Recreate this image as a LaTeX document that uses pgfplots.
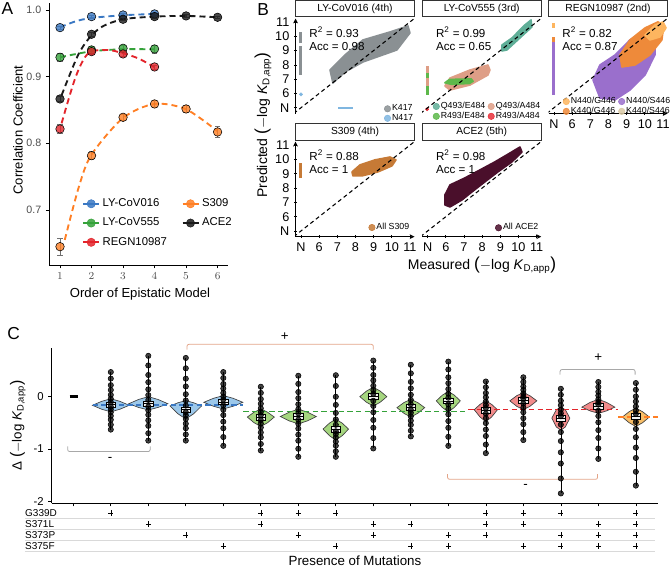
\documentclass[border=0pt]{standalone}
\usepackage{fontspec}
\setmainfont{Liberation Sans}
\usepackage{pgfplots}
\pgfplotsset{compat=1.18}
\usepgfplotslibrary{statistics}

% panel A
\definecolor{cBlue}{HTML}{3A78C3}
\definecolor{cGreen}{HTML}{35A23A}
\definecolor{cRed}{HTML}{E3242B}
\definecolor{cOrange}{HTML}{FF7F24}
\definecolor{cBlack}{HTML}{1A1A1A}
\definecolor{tickgrey}{HTML}{4D4D4D}
\definecolor{errgrey}{HTML}{707070}
% panel B
\definecolor{kGrey}{HTML}{8A9093}
\definecolor{nBlue}{HTML}{7FB6E0}
\definecolor{qTeal}{HTML}{5FAE97}
\definecolor{qSalmon}{HTML}{DE9E86}
\definecolor{rGreen}{HTML}{5DB84A}
\definecolor{rRed}{HTML}{E8303A}
\definecolor{nLOrange}{HTML}{FDB55F}
\definecolor{kOrange}{HTML}{EE8A3A}
\definecolor{nPurple}{HTML}{9A6FCC}
\definecolor{kBeige}{HTML}{D8C8A4}
\definecolor{sBrown}{HTML}{C67A36}
\definecolor{aMaroon}{HTML}{4A0F2B}
% panel C
\definecolor{vBlue}{HTML}{9CC8EA}
\definecolor{vGreen}{HTML}{A5D67F}
\definecolor{vRed}{HTML}{F28B8B}
\definecolor{vOrange}{HTML}{F8BE68}
\definecolor{brSalmon}{HTML}{E3A488}
\definecolor{brGrey}{HTML}{A8A8A8}

\newcommand{\fs}[1]{\fontsize{#1}{#1}\selectfont}
\newcommand{\KD}{\textit{K}\textsubscript{D,app}}
\newcommand{\linekey}[2]{\addlegendimage{legend image code/.code={\draw[#1, line width=1.3pt] (0pt,0pt) -- (12pt,0pt); \fill[#1, fill opacity=0.85] (6pt,0pt) circle (3.1pt);}}\addlegendentry{#2}}
\newcommand{\dotkey}[2]{\addlegendimage{legend image code/.code={\fill[#1, fill opacity=0.85] (2.4pt,0pt) circle (2.4pt);}}\addlegendentry{#2}}

\tikzset{
  strip/.style={draw=black!80, line width=0.6pt, fill=white, minimum width=89.25pt,
    minimum height=12.4pt, inner sep=0pt, anchor=south, font=\fs{7.7}, yshift=1pt},
  rsq/.style={anchor=west, inner sep=0pt, font=\fs{8.7}},
}
\pgfplotsset{
  dots/.style={forget plot, only marks, mark=*, mark size=3.2pt,
    mark options={draw=none, fill=#1, fill opacity=0.8},
    error bars/y dir=both, error bars/y explicit,
    error bars/error bar style={color=errgrey, line width=0.55pt},
    error bars/error mark options={rotate=90, mark size=2pt, color=errgrey, line width=0.55pt}},
  fit/.style={#1, line width=1.4pt, dash pattern=on 4.5pt off 3pt, smooth, forget plot},
  facet/.style={scale only axis, width=89.25pt, height=71.25pt,
    xmin=4.7, xmax=11.25, ymin=4.6, ymax=11.24,
    xtick={5,...,11}, ytick={5,...,11},
    xticklabels={N,6,7,8,9,10,11}, yticklabels={N,6,7,8,9,10,11},
    tick align=outside, major tick length=2.2pt,
    tick style={black, line width=0.5pt},
    ticklabel style={font=\fs{9.5}},
    axis line style={-, line width=0.6pt},
    clip mode=individual,
    legend cell align=left,
    legend style={draw=none, fill=none, font=\fs{6.6}, inner sep=0pt,
      row sep=-0.5pt, nodes={inner sep=0.8pt}, anchor=north west}},
  diag/.style={forget plot, black, line width=0.8pt, dash pattern=on 3pt off 2.3pt},
  cloud/.style={forget plot, fill=#1, draw=#1, line width=1.2pt, line join=round},
  nband/.style={forget plot, #1, line width=2.2pt},
  violin/.style={forget plot, fill=#1, draw=black!75, line width=0.5pt},
  pts/.style={forget plot, only marks, mark=*, mark size=2pt,
    mark options={draw=none, fill=black, fill opacity=0.75}},
  bx/.style={forget plot, boxplot/draw direction=y, draw=black, fill=gray!10, line width=0.5pt},
  grp/.style={forget plot, #1, line width=1.1pt, dash pattern=on 4pt off 2.5pt},
  bracket/.style={forget plot, #1, line width=0.6pt, rounded corners=1.5pt},
  sep/.style={forget plot, black!15, line width=0.5pt},
}

\begin{document}
\begin{tikzpicture}
\path[use as bounding box] (0pt,0pt) rectangle (502.5pt,-425.25pt);

% ---------------- panel labels and shared titles
\node[anchor=north west, inner sep=0pt, font=\fs{13}] at (1.1pt,-1.5pt) {A};
\node[anchor=north west, inner sep=0pt, font=\fs{13}] at (192.75pt,-2.25pt) {B};
\node[anchor=north west, inner sep=0pt, font=\fs{13}] at (5.25pt,-245.25pt) {C};
\node[rotate=90, font=\fs{10.5}] at (197.25pt,-93.75pt) {Predicted {\fs{13}(}$-$log \KD{\fs{13})}};
\node[font=\fs{10.5}] at (361.5pt,-198.75pt) {Measured {\fs{13}(}$-$log \KD{\fs{13})}};

% ---------------- A
\begin{axis}[
  at={(36.975pt,-198.75pt)}, anchor=south west,
  scale only axis, width=134.25pt, height=196.3pt,
  xmin=0.66, xmax=6.34, ymin=0.6175, ymax=1.01,
  axis x line=bottom, axis y line=left,
  axis line style={-, line width=0.6pt},
  xtick={1,...,6}, ytick={0.7,0.8,0.9,1.0},
  yticklabels={0.7,0.8,0.9,1.0},
  tick align=outside, major tick length=2.5pt,
  tick style={black, line width=0.5pt},
  ticklabel style={font=\fs{8}, text=tickgrey},
  xlabel={Order of Epistatic Model}, ylabel={Correlation Coefficient},
  label style={font=\fs{9.8}},
  xlabel style={at={(axis description cs:0.507,-0.111)}, anchor=center},
  ylabel style={at={(axis description cs:-0.175,0.516)}, anchor=center},
  legend columns=2, legend cell align=left,
  legend style={draw=none, fill=none, font=\fs{8.5}, inner sep=0pt,
    at={(0.183,0.264)}, anchor=north west, row sep=3pt,
    /tikz/every even column/.append style={column sep=9pt}},
]
\addplot[fit=cBlue] coordinates {(1,0.974)(1.5,0.983)(2,0.988)(3,0.992)(4,0.994)};
\addplot[fit=cBlack] coordinates {(1.05,0.872)(1.55,0.93)(1.92,0.9575)(2.34,0.975)(3,0.986)(4,0.99)(5,0.991)(6,0.989)};
\addplot[fit=cGreen] coordinates {(1,0.929)(2,0.938)(3,0.941)(4,0.941)};
\addplot[fit=cRed] coordinates {(1.05,0.83)(1.5,0.9)(1.9,0.935)(2.5,0.94)(3,0.935)(3.5,0.927)(4,0.914)};
\addplot[fit=cOrange] coordinates {(1.15,0.655)(1.6,0.735)(2,0.783)(3,0.838)(4,0.859)(5,0.851)(6,0.818)};

\addplot[dots=cBlue] coordinates {(1,0.9735)+-(0,0.002)(2,0.990)+-(0,0.002)(3,0.9925)+-(0,0.002)(4,0.994)+-(0,0.002)};
\addplot[dots=cBlack] coordinates {(1,0.8665)+-(0,0.004)(2,0.9635)+-(0,0.003)(3,0.986)+-(0,0.002)(4,0.990)+-(0,0.002)(5,0.991)+-(0,0.002)(6,0.989)+-(0,0.002)};
\addplot[dots=cGreen] coordinates {(1,0.929)+-(0,0.006)(2,0.940)+-(0,0.006)(3,0.9425)+-(0,0.005)(4,0.9415)+-(0,0.006)};
\addplot[dots=cRed] coordinates {(1,0.8215)+-(0,0.007)(2,0.9375)+-(0,0.004)(3,0.934)+-(0,0.003)(4,0.9145)+-(0,0.003)};
\addplot[dots=cOrange] coordinates {(1,0.645)+-(0,0.0125)(2,0.7815)+-(0,0.006)(3,0.839)+-(0,0.005)(4,0.859)+-(0,0.005)(5,0.8515)+-(0,0.005)(6,0.817)+-(0,0.008)};

\linekey{cBlue}{LY-CoV016}
\linekey{cOrange}{S309}
\linekey{cGreen}{LY-CoV555}
\linekey{cBlack}{ACE2}
\linekey{cRed}{REGN10987}
\end{axis}

% ---------------- B: LY-CoV016
\begin{axis}[facet, at={(221.625pt,-85.125pt)}, anchor=south west,
  axis x line=none, axis y line=left, xtick=\empty,
  legend style={at={(0.742,0.106)}}]
\addplot[cloud=kGrey] coordinates {(6.60,7.64)(7.42,8.69)(8.41,9.74)(9.90,10.30)(10.89,10.72)(11.0,10.23)(10.28,9.04)(8.41,8.20)(7.42,7.50)(6.76,6.73)} -- cycle;
\addplot[nband=kGrey] coordinates {(5,7.3)(5,9.3)};
\addplot[nband=kGrey] coordinates {(5,9.5)(5,10.3)};
\addplot[forget plot, only marks, mark=*, mark size=1.2pt, nBlue] coordinates {(5,5.94)};
\addplot[forget plot, nBlue, line width=1.8pt] coordinates {(7.04,4.99)(7.86,4.99)};
\addplot[diag] coordinates {(4.6,4.6)(11.3,11.3)};
\node[rsq] at (axis cs:5.45,10.3) {R\textsuperscript{2} = 0.93};
\node[rsq] at (axis cs:5.45,9.3) {Acc = 0.98};
\node[strip] at (rel axis cs:0.5,1) {LY-CoV016 (4th)};
\dotkey{kGrey}{K417}
\dotkey{nBlue}{N417}
\end{axis}

% ---------------- B: LY-CoV555
\begin{axis}[facet, at={(316.65pt,-85.125pt)}, anchor=south west,
  axis x line=none, axis y line=none, xtick=\empty, ytick=\empty,
  legend columns=2, legend style={at={(0.087,0.132)},
    /tikz/every even column/.append style={column sep=1pt}}]
\addplot[cloud=qTeal] coordinates {(9.09,9.39)(9.64,9.88)(10.35,10.79)(10.69,11.14)(10.74,10.65)(10.08,9.88)(9.36,9.04)(9.09,8.97)} -- cycle;
\addplot[cloud=qSalmon] coordinates {(5.95,6.52)(6.23,7.08)(7.33,7.64)(8.32,7.99)(8.43,7.64)(8.32,7.29)(7.33,6.59)(6.23,6.24)} -- cycle;
\addplot[cloud=rGreen] coordinates {(5.95,6.75)(6.2,6.98)(7.4,7.02)(7.5,6.85)(7.3,6.7)(6.3,6.64)} -- cycle;
\addplot[nband=qSalmon] coordinates {(5,5.9)(5,7.9)};
\addplot[nband=rGreen] coordinates {(5,5.9)(5,6.5)};
\addplot[nband=rGreen] coordinates {(5,7.1)(5,7.4)};
\addplot[forget plot, only marks, mark=*, mark size=1.2pt, rRed] coordinates {(4.97,4.9)};
\addplot[diag] coordinates {(4.6,4.6)(11.3,11.3)};
\node[rsq] at (axis cs:5.45,10.3) {R\textsuperscript{2} = 0.99};
\node[rsq] at (axis cs:5.45,9.3) {Acc = 0.65};
\node[strip] at (rel axis cs:0.5,1) {LY-CoV555 (3rd)};
\dotkey{qTeal}{Q493/E484}
\dotkey{qSalmon}{Q493/A484}
\dotkey{rGreen}{R493/E484}
\dotkey{rRed}{R493/A484}
\end{axis}

% ---------------- B: REGN10987
\begin{axis}[facet, at={(411.375pt,-85.125pt)}, anchor=south west,
  axis x line=bottom, axis y line=none, ytick=\empty,
  legend columns=2, legend style={at={(0.118,0.184)},
    /tikz/every even column/.append style={column sep=1pt}}]
\addplot[cloud=nPurple] coordinates {(7.53,5.69)(7.15,6.94)(7.53,7.99)(8.36,8.69)(9.18,9.74)(10.01,10.44)(10.56,10.09)(10.56,8.69)(10.01,7.29)(9.18,6.24)(8.36,5.55)} -- cycle;
\addplot[cloud=kOrange] coordinates {(8.63,8.69)(9.18,9.74)(10.01,10.58)(10.72,11.0)(11.05,10.79)(10.94,9.74)(10.28,8.69)(9.46,7.99)(8.74,7.85)} -- cycle;
\addplot[cloud=nLOrange] coordinates {(10.01,10.09)(10.56,10.79)(11.0,11.0)(11.17,10.58)(10.83,9.95)(10.28,9.74)} -- cycle;
\addplot[nband=nPurple] coordinates {(5,5.9)(5,9.6)};
\addplot[nband=kOrange] coordinates {(5,9.6)(5,9.95)};
\addplot[nband=nLOrange] coordinates {(5,10.6)(5,10.9)};
\addplot[diag] coordinates {(4.6,4.6)(11.3,11.3)};
\node[rsq] at (axis cs:5.45,10.3) {R\textsuperscript{2} = 0.82};
\node[rsq] at (axis cs:5.45,9.3) {Acc = 0.87};
\node[strip] at (rel axis cs:0.5,1) {REGN10987 (2nd)};
\dotkey{nLOrange}{N440/G446}
\dotkey{nPurple}{N440/S446}
\dotkey{kOrange}{K440/G446}
\dotkey{kBeige}{K440/S446}
\end{axis}

% ---------------- B: S309
\begin{axis}[facet, at={(221.625pt,-177.525pt)}, anchor=south west,
  axis x line=bottom, axis y line=left,
  legend style={at={(0.611,0.155)}}]
\addplot[cloud=sBrown] coordinates {(7.81,9.13)(8.25,9.62)(9.07,9.97)(9.9,10.17)(10.23,9.97)(10.01,9.55)(9.24,9.13)(8.36,8.85)(7.86,8.85)} -- cycle;
\addplot[nband=sBrown] coordinates {(5,8.7)(5,9.75)};
\addplot[diag] coordinates {(4.6,4.6)(11.3,11.3)};
\node[rsq] at (axis cs:5.45,10.3) {R\textsuperscript{2} = 0.88};
\node[rsq] at (axis cs:5.45,9.3) {Acc = 1};
\node[strip] at (rel axis cs:0.5,1) {S309 (4th)};
\dotkey{sBrown}{All S309}
\end{axis}

% ---------------- B: ACE2
\begin{axis}[facet, at={(316.65pt,-177.525pt)}, anchor=south west,
  axis x line=bottom, axis y line=none, ytick=\empty,
  legend style={at={(0.61,0.152)}}]
\addplot[cloud=aMaroon] coordinates {(5.95,7.52)(6.23,8.22)(7.05,8.71)(7.88,9.27)(8.7,9.83)(9.53,10.45)(10.08,10.87)(10.19,10.52)(9.64,9.83)(8.87,9.13)(8.15,8.43)(7.44,7.73)(6.89,7.17)(6.23,6.68)(5.95,6.82)} -- cycle;
\addplot[diag] coordinates {(4.6,4.6)(11.3,11.3)};
\node[rsq] at (axis cs:5.45,10.3) {R\textsuperscript{2} = 0.98};
\node[rsq] at (axis cs:5.45,9.3) {Acc = 1};
\node[strip] at (rel axis cs:0.5,1) {ACE2 (5th)};
\dotkey{aMaroon}{All ACE2}
\end{axis}

% ---------------- C
\begin{axis}[
  at={(38.775pt,-377.25pt)}, anchor=south west,
  scale only axis, width=454.7pt, height=116.25pt,
  xmin=-0.576, xmax=15.59, ymin=-2.033, ymax=0.93,
  axis x line=bottom, axis y line=left,
  axis line style={-, line width=0.7pt},
  xtick={0,...,15}, xticklabels={},
  ytick={-2,-1,0}, yticklabels={-2,-1,0},
  tick align=outside, major tick length=2.5pt,
  tick style={black, line width=0.5pt},
  ticklabel style={font=\fs{8.5}},
  ylabel={Δ {\fs{12}(}$-$log \KD{\fs{12})}},
  ylabel style={font=\fs{10}, at={(axis description cs:-0.056,0.5)}, anchor=center},
  clip=false,
]
% individual measurements (behind the violins)
\addplot[pts] coordinates {
 (1,0.47)(1,0.345)(1,0.22)(1,0.127)(1,0.033)(1,-0.042)(1,-0.104)(1,-0.192)(1,-0.24)(1,-0.297)(1,-0.368)(1,-0.44)(1,-0.535)(1,-0.63)
 (2,0.78)(2,0.597)(2,0.414)(2,0.277)(2,0.14)(2,0.03)(2,-0.062)(2,-0.191)(2,-0.262)(2,-0.347)(2,-0.452)(2,-0.558)(2,-0.699)(2,-0.84)
 (3,0.74)(3,0.542)(3,0.344)(3,0.196)(3,0.047)(3,-0.072)(3,-0.171)(3,-0.297)(3,-0.356)(3,-0.427)(3,-0.516)(3,-0.604)(3,-0.722)(3,-0.84)
 (4,0.47)(4,0.356)(4,0.242)(4,0.157)(4,0.071)(4,0.003)(4,-0.054)(4,-0.167)(4,-0.251)(4,-0.352)(4,-0.478)(4,-0.604)(4,-0.772)(4,-0.94)
 (5,0.19)(5,0.072)(5,-0.046)(5,-0.135)(5,-0.223)(5,-0.294)(5,-0.353)(5,-0.45)(5,-0.513)(5,-0.589)(5,-0.684)(5,-0.778)(5,-0.904)(5,-1.03)
 (6,0.40)(6,0.244)(6,0.088)(6,-0.029)(6,-0.146)(6,-0.24)(6,-0.318)(6,-0.442)(6,-0.519)(6,-0.611)(6,-0.727)(6,-0.842)(6,-0.996)(6,-1.15)
 (7,0.41)(7,0.204)(7,-0.002)(7,-0.157)(7,-0.311)(7,-0.435)(7,-0.538)(7,-0.662)(7,-0.715)(7,-0.779)(7,-0.859)(7,-0.938)(7,-1.044)(7,-1.15)
 (8,0.69)(8,0.552)(8,0.414)(8,0.311)(8,0.207)(8,0.124)(8,0.055)(8,-0.079)(8,-0.178)(8,-0.297)(8,-0.446)(8,-0.594)(8,-0.792)(8,-0.99)
 (9,0.61)(9,0.446)(9,0.282)(9,0.159)(9,0.036)(9,-0.062)(9,-0.144)(9,-0.254)(9,-0.309)(9,-0.375)(9,-0.458)(9,-0.54)(9,-0.65)(9,-0.76)
 (10,0.67)(10,0.52)(10,0.37)(10,0.258)(10,0.145)(10,0.055)(10,-0.02)(10,-0.149)(10,-0.235)(10,-0.338)(10,-0.467)(10,-0.596)(10,-0.768)(10,-0.94)
 (11,0.29)(11,0.18)(11,0.07)(11,-0.013)(11,-0.095)(11,-0.161)(11,-0.216)(11,-0.326)(11,-0.408)(11,-0.506)(11,-0.629)(11,-0.752)(11,-0.916)(11,-1.08)
 (12,0.37)(12,0.282)(12,0.194)(12,0.128)(12,0.062)(12,0.009)(12,-0.035)(12,-0.131)(12,-0.207)(12,-0.298)(12,-0.412)(12,-0.526)(12,-0.678)(12,-0.83)
 (13,0.15)(13,0.036)(13,-0.078)(13,-0.164)(13,-0.249)(13,-0.317)(13,-0.374)(13,-0.534)(13,-0.677)(13,-0.849)(13,-1.064)(13,-1.278)(13,-1.564)(13,-1.85)
 (14,0.28)(14,0.186)(14,0.092)(14,0.022)(14,-0.049)(14,-0.105)(14,-0.152)(14,-0.27)(14,-0.37)(14,-0.49)(14,-0.64)(14,-0.79)(14,-0.99)(14,-1.19)
 (15,0.26)(15,0.132)(15,0.004)(15,-0.092)(15,-0.188)(15,-0.265)(15,-0.329)(15,-0.486)(15,-0.618)(15,-0.776)(15,-0.974)(15,-1.172)(15,-1.436)(15,-1.70)
};

% violins
\addplot[violin=vBlue] coordinates {(0.51,-0.165)(0.755,-0.09)(1,-0.04)(1.245,-0.09)(1.49,-0.165)(1.245,-0.24)(1,-0.29)(0.755,-0.24)} -- cycle;
\addplot[violin=vBlue] coordinates {(1.48,-0.135)(1.74,-0.054)(2,0)(2.26,-0.054)(2.52,-0.135)(2.26,-0.206)(2,-0.254)(1.74,-0.206)} -- cycle;
\addplot[violin=vBlue] coordinates {(2.58,-0.178)(2.79,-0.117)(3,-0.076)(3.21,-0.117)(3.42,-0.178)(3.21,-0.327)(3,-0.426)(2.79,-0.327)} -- cycle;
\addplot[violin=vBlue] coordinates {(3.48,-0.108)(3.74,-0.031)(4,0.02)(4.26,-0.031)(4.52,-0.108)(4.26,-0.184)(4,-0.235)(3.74,-0.184)} -- cycle;
\addplot[violin=vGreen] coordinates {(4.64,-0.39)(4.82,-0.297)(5,-0.235)(5.18,-0.297)(5.36,-0.39)(5.18,-0.498)(5,-0.57)(4.82,-0.498)} -- cycle;
\addplot[violin=vGreen] coordinates {(5.52,-0.38)(5.76,-0.296)(6,-0.24)(6.24,-0.296)(6.48,-0.38)(6.24,-0.464)(6,-0.52)(5.76,-0.464)} -- cycle;
\addplot[violin=vGreen] coordinates {(6.66,-0.62)(6.83,-0.506)(7,-0.43)(7.17,-0.506)(7.34,-0.62)(7.17,-0.746)(7,-0.83)(6.83,-0.746)} -- cycle;
\addplot[violin=vGreen] coordinates {(7.64,0)(7.82,0.108)(8,0.18)(8.18,0.108)(8.36,0)(8.18,-0.108)(8,-0.18)(7.82,-0.108)} -- cycle;
\addplot[violin=vGreen] coordinates {(8.63,-0.21)(8.815,-0.114)(9,-0.05)(9.185,-0.114)(9.37,-0.21)(9.185,-0.318)(9,-0.39)(8.815,-0.318)} -- cycle;
\addplot[violin=vGreen] coordinates {(9.68,-0.08)(9.84,0.028)(10,0.1)(10.16,0.028)(10.32,-0.08)(10.16,-0.206)(10,-0.29)(9.84,-0.206)} -- cycle;
\addplot[violin=vRed] coordinates {(10.69,-0.25)(10.845,-0.148)(11,-0.08)(11.155,-0.148)(11.31,-0.25)(11.155,-0.388)(11,-0.48)(10.845,-0.388)} -- cycle;
\addplot[violin=vRed] coordinates {(11.64,-0.08)(11.82,0.016)(12,0.08)(12.18,0.016)(12.36,-0.08)(12.18,-0.182)(12,-0.25)(11.82,-0.182)} -- cycle;
\addplot[violin=vRed] coordinates {(12.76,-0.41)(12.88,-0.25)(13,-0.2)(13.12,-0.25)(13.24,-0.41)(13.12,-0.58)(13,-0.64)(12.88,-0.58)} -- cycle;
\addplot[violin=vRed] coordinates {(13.56,-0.2)(13.78,-0.11)(14,-0.05)(14.22,-0.11)(14.44,-0.2)(14.22,-0.272)(14,-0.32)(13.78,-0.272)} -- cycle;
\addplot[violin=vOrange] coordinates {(14.64,-0.39)(14.82,-0.288)(15,-0.22)(15.18,-0.288)(15.36,-0.39)(15.18,-0.498)(15,-0.57)(14.82,-0.498)} -- cycle;

% group means
\addplot[grp=cBlue] coordinates {(0.52,-0.16)(4.53,-0.16)};
\addplot[grp=cGreen] coordinates {(4.53,-0.28)(10.53,-0.28)};
\addplot[grp=cRed] coordinates {(10.53,-0.25)(14.53,-0.25)};
\addplot[grp=cOrange] coordinates {(14.53,-0.39)(15.65,-0.39)};

% wild type
\addplot[forget plot, black, line width=2.2pt] coordinates {(-0.1,0)(0.12,0)};

% boxes, whiskers to the extreme points
\addplot[bx, boxplot prepared={draw position=1, median=-0.154, lower quartile=-0.21, upper quartile=-0.10, lower whisker=-0.63, upper whisker=0.47, box extend=0.26, whisker extend=0}] coordinates {};
\addplot[bx, boxplot prepared={draw position=2, median=-0.135, lower quartile=-0.19, upper quartile=-0.08, lower whisker=-0.84, upper whisker=0.78, box extend=0.26, whisker extend=0}] coordinates {};
\addplot[bx, boxplot prepared={draw position=3, median=-0.25, lower quartile=-0.305, upper quartile=-0.195, lower whisker=-0.84, upper whisker=0.74, box extend=0.26, whisker extend=0}] coordinates {};
\addplot[bx, boxplot prepared={draw position=4, median=-0.10, lower quartile=-0.155, upper quartile=-0.045, lower whisker=-0.94, upper whisker=0.47, box extend=0.26, whisker extend=0}] coordinates {};
\addplot[bx, boxplot prepared={draw position=5, median=-0.40, lower quartile=-0.455, upper quartile=-0.345, lower whisker=-1.03, upper whisker=0.19, box extend=0.26, whisker extend=0}] coordinates {};
\addplot[bx, boxplot prepared={draw position=6, median=-0.38, lower quartile=-0.435, upper quartile=-0.325, lower whisker=-1.15, upper whisker=0.40, box extend=0.26, whisker extend=0}] coordinates {};
\addplot[bx, boxplot prepared={draw position=7, median=-0.62, lower quartile=-0.675, upper quartile=-0.565, lower whisker=-1.15, upper whisker=0.41, box extend=0.26, whisker extend=0}] coordinates {};
\addplot[bx, boxplot prepared={draw position=8, median=0.0, lower quartile=-0.055, upper quartile=0.055, lower whisker=-0.99, upper whisker=0.69, box extend=0.26, whisker extend=0}] coordinates {};
\addplot[bx, boxplot prepared={draw position=9, median=-0.21, lower quartile=-0.265, upper quartile=-0.155, lower whisker=-0.76, upper whisker=0.61, box extend=0.26, whisker extend=0}] coordinates {};
\addplot[bx, boxplot prepared={draw position=10, median=-0.08, lower quartile=-0.135, upper quartile=-0.025, lower whisker=-0.94, upper whisker=0.67, box extend=0.26, whisker extend=0}] coordinates {};
\addplot[bx, boxplot prepared={draw position=11, median=-0.26, lower quartile=-0.315, upper quartile=-0.205, lower whisker=-1.08, upper whisker=0.29, box extend=0.26, whisker extend=0}] coordinates {};
\addplot[bx, boxplot prepared={draw position=12, median=-0.07, lower quartile=-0.125, upper quartile=-0.015, lower whisker=-0.83, upper whisker=0.37, box extend=0.26, whisker extend=0}] coordinates {};
\addplot[bx, boxplot prepared={draw position=13, median=-0.42, lower quartile=-0.475, upper quartile=-0.365, lower whisker=-1.85, upper whisker=0.15, box extend=0.26, whisker extend=0}] coordinates {};
\addplot[bx, boxplot prepared={draw position=14, median=-0.19, lower quartile=-0.245, upper quartile=-0.135, lower whisker=-1.19, upper whisker=0.28, box extend=0.26, whisker extend=0}] coordinates {};
\addplot[bx, boxplot prepared={draw position=15, median=-0.38, lower quartile=-0.435, upper quartile=-0.325, lower whisker=-1.70, upper whisker=0.26, box extend=0.26, whisker extend=0}] coordinates {};

% brackets
\addplot[bracket=brGrey] coordinates {(-0.15,-0.95)(-0.15,-1.05)(2.05,-1.05)(2.05,-0.95)};
\addplot[bracket=brSalmon] coordinates {(3.03,0.9)(3.03,1.0)(8.0,1.0)(8.0,0.9)};
\addplot[bracket=brGrey] coordinates {(12.98,0.42)(12.98,0.52)(14.98,0.52)(14.98,0.42)};
\addplot[bracket=brSalmon] coordinates {(9.98,-1.48)(9.98,-1.58)(13.98,-1.58)(13.98,-1.48)};
\node[font=\fs{10}] at (axis cs:0.98,-1.21) {-};
\node[font=\fs{10}] at (axis cs:5.64,1.15) {+};
\node[font=\fs{10}] at (axis cs:14.0,0.74) {+};
\node[font=\fs{10}] at (axis cs:12.06,-1.71) {-};
\end{axis}

% ---------------- C: presence table
\begin{axis}[
  at={(38.775pt,-413.625pt)}, anchor=south west,
  scale only axis, width=454.7pt, height=33pt,
  xmin=-0.576, xmax=15.59, ymin=0.5, ymax=4.5, y dir=reverse,
  axis lines=none, clip=false,
]
\addplot[sep] coordinates {(-1.29,1.5)(15.5,1.5)};
\addplot[sep] coordinates {(-1.29,2.5)(15.5,2.5)};
\addplot[sep] coordinates {(-1.29,3.5)(15.5,3.5)};
\addplot[sep] coordinates {(-1.29,4.5)(15.5,4.5)};
\node[anchor=west, inner sep=0pt, font=\fs{7.5}] at (axis cs:-1.29,1) {G339D};
\node[anchor=west, inner sep=0pt, font=\fs{7.5}] at (axis cs:-1.29,2) {S371L};
\node[anchor=west, inner sep=0pt, font=\fs{7.5}] at (axis cs:-1.29,3) {S373P};
\node[anchor=west, inner sep=0pt, font=\fs{7.5}] at (axis cs:-1.29,4) {S375F};
\addplot[only marks, mark=+, mark size=1.9pt, black, line width=0.4pt] coordinates {
 (1,1)(5,1)(6,1)(7,1)(11,1)(12,1)(13,1)(15,1)
 (2,2)(5,2)(8,2)(9,2)(11,2)(12,2)(14,2)(15,2)
 (3,3)(6,3)(8,3)(10,3)(11,3)(13,3)(14,3)(15,3)
 (4,4)(7,4)(9,4)(10,4)(12,4)(13,4)(14,4)(15,4)
};
\node[font=\fs{10}] at (axis cs:7.51,5.3) {Presence of Mutations};
\end{axis}
\end{tikzpicture}
\end{document}
